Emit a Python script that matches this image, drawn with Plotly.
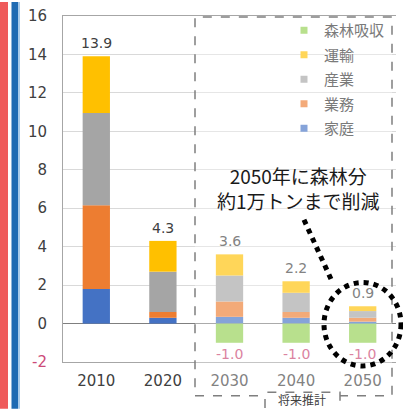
import plotly.graph_objects as go

# CO2 emissions by sector (10,000 t-CO2) with forest absorption
years = ["2010", "2020", "2030", "2040", "2050"]
household = [1.8, 0.3, 0.35, 0.3, 0.1]      # 家庭
business = [4.35, 0.3, 0.8, 0.3, 0.2]       # 業務
industry = [4.8, 2.1, 1.35, 1.0, 0.35]      # 産業
transport = [2.95, 1.6, 1.1, 0.6, 0.25]     # 運輸
forest = [0.0, 0.0, -1.0, -1.0, -1.0]       # 森林吸収

y_ticks = [-2, 0, 2, 4, 6, 8, 10, 12, 14, 16]

series = [
    ("家庭", household, "#4472C4"),
    ("業務", business, "#ED7D31"),
    ("産業", industry, "#A5A5A5"),
    ("運輸", transport, "#FFC000"),
    ("森林吸収", forest, "#92D050"),
]
legend_order = ["森林吸収", "運輸", "産業", "業務", "家庭"]

W, H = 403, 409
ML, MR, MT, MB = 63, 7, 14, 47
PW, PH = W - ML - MR, H - MT - MB

FADE = 0.35  # white veil over the projected years


def px_x(px):
    return (px - ML) / PW


def px_y(py):
    return (H - MB - py) / PH


def fade(hex_color, a=FADE):
    h = hex_color.lstrip("#")
    r, g, b = (int(h[i:i + 2], 16) for i in (0, 2, 4))
    mix = lambda c: round(c * (1 - a) + 255 * a)
    return "#{:02x}{:02x}{:02x}".format(mix(r), mix(g), mix(b))


fig = go.Figure()

for name, vals, color in series:
    fig.add_trace(go.Bar(
        x=years, y=vals, name=name, marker=dict(color=color, line=dict(width=0)),
        width=0.41, showlegend=False, hoverinfo="x+y+name",
    ))

# legend entries with small square swatches
color_of = {n: c for n, _, c in series}
for name in legend_order:
    fig.add_trace(go.Scatter(
        x=[None], y=[None], mode="markers", name=name, legendgroup=name,
        marker=dict(symbol="square", size=7, color=fade(color_of[name])),
    ))

annotations = []
future = {"2030", "2040", "2050"}

# totals above each bar, absorption below (x given as category index)
for i, yr in enumerate(years):
    total = household[i] + business[i] + industry[i] + transport[i]
    col = fade("#404040") if yr in future else "#404040"
    annotations.append(dict(
        x=i, y=total, text=f"{total:.1f}", showarrow=False, yanchor="bottom",
        yshift=3, font=dict(size=14, color=col, family="DejaVu Sans"),
    ))
    if forest[i] < 0:
        annotations.append(dict(
            x=i, y=forest[i], text=f"{forest[i]:.1f}", showarrow=False,
            yanchor="top", yshift=-1,
            font=dict(size=14, color=fade("#c8406e"), family="DejaVu Sans"),
        ))

annotations.append(dict(
    xref="paper", yref="paper", x=px_x(298), y=px_y(187),
    text="2050年に森林分<br>約1万トンまで削減", showarrow=False,
    xanchor="center", yanchor="middle", align="center",
    font=dict(size=19, color="#1a1a1a", family="Noto Sans CJK JP"),
))
annotations.append(dict(
    xref="paper", yref="paper", x=px_x(302), y=px_y(409),
    text="将来推計", showarrow=False, xanchor="center", yanchor="bottom",
    borderpad=0, font=dict(size=12, color="#404040", family="Noto Sans CJK JP"),
))

shapes = [
    # side stripes
    dict(type="rect", xref="paper", yref="paper", x0=px_x(0), x1=px_x(8),
         y0=px_y(H), y1=px_y(0), fillcolor="#EF5B5B", line=dict(width=0), layer="below"),
    dict(type="rect", xref="paper", yref="paper", x0=px_x(11.5), x1=px_x(18),
         y0=px_y(H), y1=px_y(0), fillcolor="#1F6BB3", line=dict(width=0), layer="below"),
    dict(type="rect", xref="paper", yref="paper", x0=px_x(18), x1=px_x(20),
         y0=px_y(H), y1=px_y(0), fillcolor="#A9CBEA", line=dict(width=0), layer="below"),
    # veil and dashed frame around the projected years
    dict(type="rect", xref="paper", yref="paper", x0=px_x(195), x1=px_x(392),
         y0=px_y(396), y1=px_y(15), fillcolor=f"rgba(255,255,255,{FADE})",
         line=dict(width=0), layer="above"),
    dict(type="rect", xref="paper", yref="paper", x0=px_x(195), x1=px_x(392),
         y0=px_y(396), y1=px_y(15), line=dict(color="#7f7f7f", width=1.5, dash="dash"),
         layer="above"),
    # label tab for 将来推計
    dict(type="rect", xref="paper", yref="paper", x0=px_x(265), x1=px_x(340),
         y0=px_y(416), y1=px_y(392.5), fillcolor="white",
         line=dict(color="#7f7f7f", width=1.5, dash="dash"), layer="above"),
    # dotted callout
    dict(type="line", xref="paper", yref="paper", x0=px_x(304), y0=px_y(219),
         x1=px_x(333), y1=px_y(283), line=dict(color="black", width=5, dash="dot"),
         layer="above"),
    dict(type="circle", xref="paper", yref="paper", x0=px_x(324), x1=px_x(401),
         y0=px_y(366), y1=px_y(282), line=dict(color="black", width=5, dash="dot"),
         layer="above"),
]

y_ticktext = ['<span style="color:#cc4a78">-2</span>' if v < 0 else str(v) for v in y_ticks]

fig.update_layout(
    width=W, height=H, margin=dict(l=ML, r=MR, t=MT, b=MB),
    barmode="relative", bargap=0.6,
    paper_bgcolor="white", plot_bgcolor="white",
    font=dict(family="DejaVu Sans", color="#404040"),
    xaxis=dict(
        type="category", categoryorder="array", categoryarray=years,
        range=[-0.5, 4.5], showline=True, mirror=True, linecolor="#a6a6a6",
        linewidth=1, ticks="", tickfont=dict(size=15, color="#404040"),
        ticklabelstandoff=5, fixedrange=True,
    ),
    yaxis=dict(
        range=[-2, 16], tickvals=y_ticks, ticktext=y_ticktext,
        showline=True, linecolor="#a6a6a6", linewidth=1,
        gridcolor="#d9d9d9", gridwidth=1, zeroline=True,
        zerolinecolor="#7f7f7f", zerolinewidth=1, ticks="",
        tickfont=dict(size=15, color="#404040"), ticklabelstandoff=12,
        fixedrange=True,
    ),
    legend=dict(
        x=px_x(390), y=px_y(12), xanchor="right", yanchor="top",
        bgcolor="rgba(0,0,0,0)", traceorder="grouped", tracegroupgap=2,
        font=dict(size=15, color="#7a7a7a", family="Noto Sans CJK JP"),
        itemwidth=30,
    ),
    annotations=annotations,
    shapes=shapes,
)

fig.write_html("out.html")
